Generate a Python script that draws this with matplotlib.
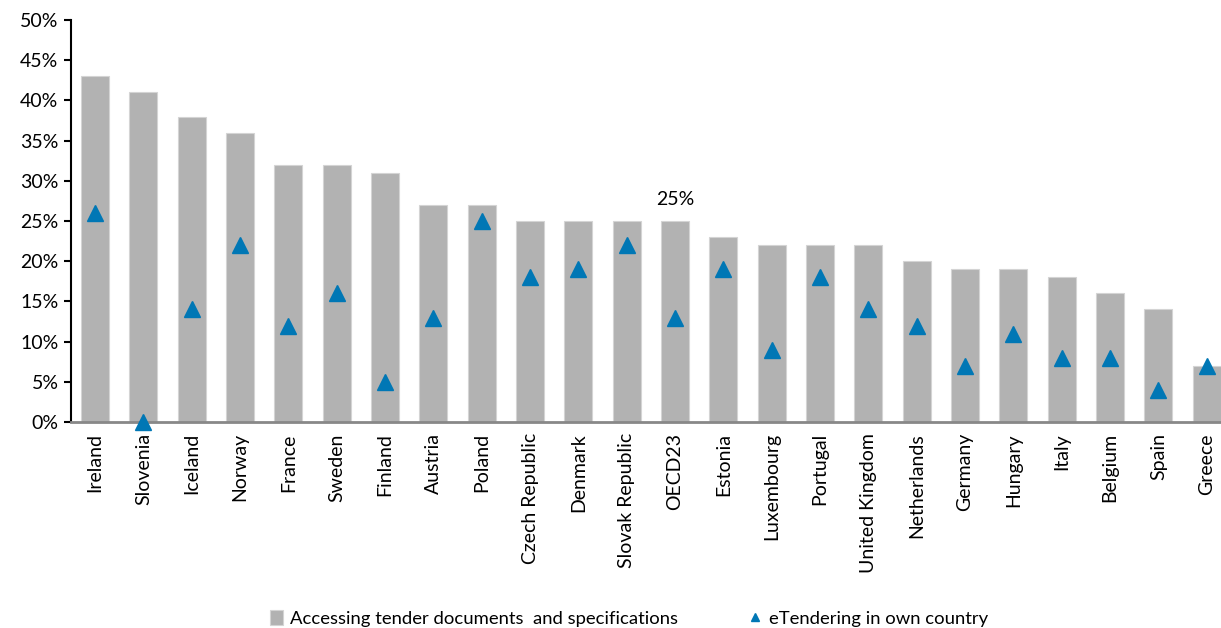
import numpy as np
import matplotlib.pyplot as plt
from matplotlib.ticker import FuncFormatter

# share of users by country
countries = ["Ireland", "Slovenia", "Iceland", "Norway", "France", "Sweden", "Finland",
             "Austria", "Poland", "Czech Republic", "Denmark", "Slovak Republic", "OECD23",
             "Estonia", "Luxembourg", "Portugal", "United Kingdom", "Netherlands", "Germany",
             "Hungary", "Italy", "Belgium", "Spain", "Greece"]
accessing = [43, 41, 38, 36, 32, 32, 31, 27, 27, 25, 25, 25, 25, 23, 22, 22, 22, 20, 19,
             19, 18, 16, 14, 7]
etendering = [26, 0, 14, 22, 12, 16, 5, 13, 25, 18, 19, 22, 13, 19, 9, 18, 14, 12, 7,
              11, 8, 8, 4, 7]

plt.rcParams['font.family'] = ['Lato', 'DejaVu Sans']

fig = plt.figure(figsize=(12.21, 6.28), dpi=100)
ax = fig.add_axes([0.0581, 0.328, 0.950, 0.640])

x = np.arange(len(countries))
bars = ax.bar(x, accessing, width=0.58, color="#b2b2b2", edgecolor="#d4d4d4", linewidth=0.8,
              label="Accessing tender documents  and specifications", zorder=2)
tri, = ax.plot(x, etendering, linestyle="none", marker="^", markersize=11, color="#0077b5",
               label="eTendering in own country", zorder=3, clip_on=False)

# value label for the OECD average
i = countries.index("OECD23")
ax.text(x[i], accessing[i] + 1.6, f"{accessing[i]}%", ha="center", va="bottom", fontsize=14)

ax.set_xlim(-0.5, len(countries) - 0.5)
ax.set_ylim(0, 50)
ax.set_yticks(np.arange(0, 51, 5))
ax.yaxis.set_major_formatter(FuncFormatter(lambda v, p: f"{v:.0f}%"))
ax.set_xticks(x)
ax.set_xticklabels(countries, rotation=90, fontsize=14)
ax.tick_params(axis="x", length=0, pad=8)
ax.tick_params(axis="y", length=5, width=1.5, labelsize=14, pad=4)

for s in ["top", "right"]:
    ax.spines[s].set_visible(False)
ax.spines["left"].set_linewidth(1.5)
ax.spines["bottom"].set_color("#888888")
ax.spines["bottom"].set_linewidth(2)

fig.legend(handles=[bars, tri], loc="lower center", bbox_to_anchor=(0.515, -0.025), ncol=2,
           frameon=False, fontsize=13.3, columnspacing=3.8, handlelength=0.7, handleheight=0.9,
           handletextpad=0.4, markerscale=0.55)

fig.savefig("out.png", dpi=100)
